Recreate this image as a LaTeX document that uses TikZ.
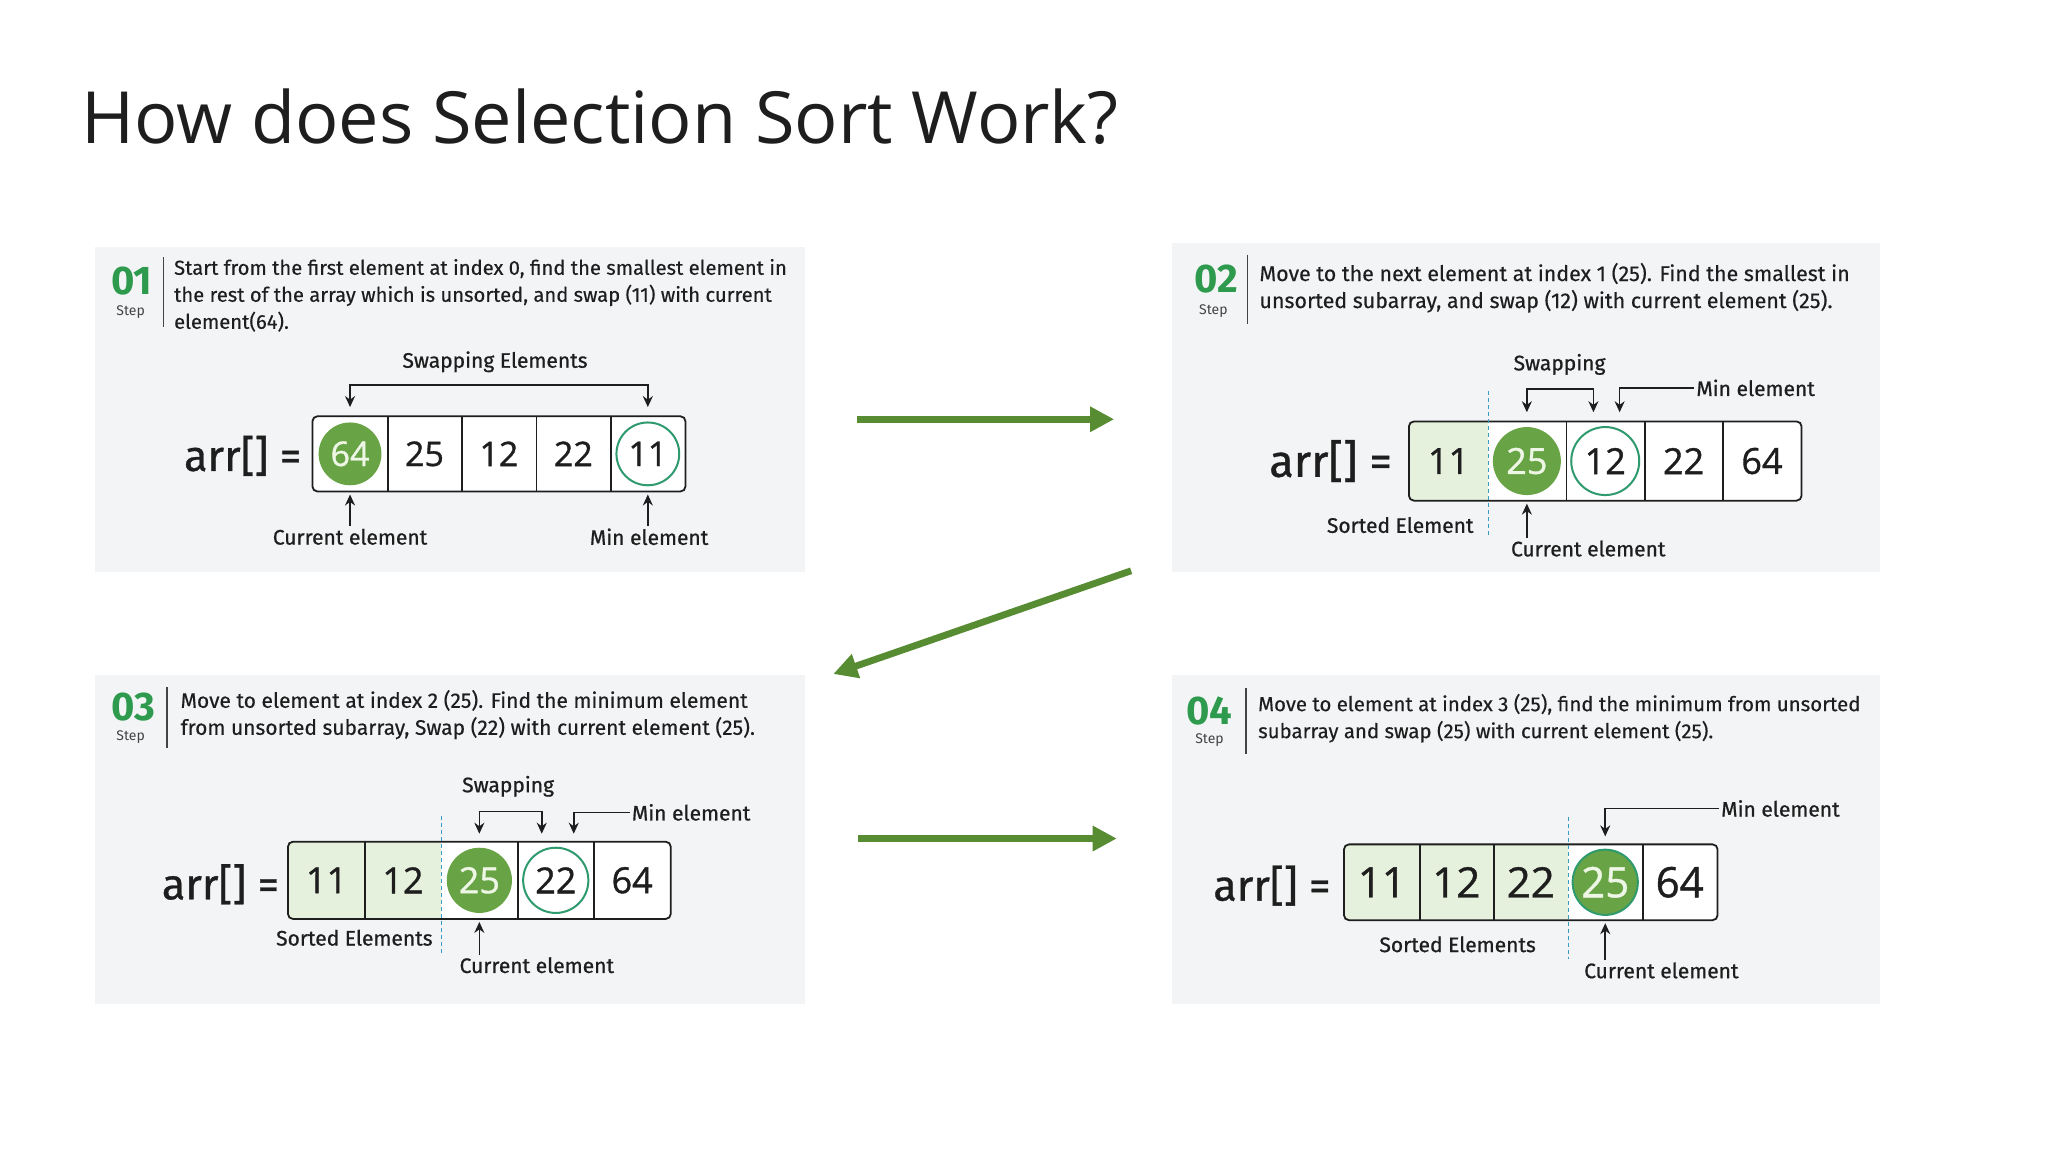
\documentclass[tikz,border=0pt]{standalone}
\usepackage{fontspec}
\setmainfont{Fira Sans}
\newfontfamily\titlefont{Open Sans}
\newfontfamily\numfont[FakeBold=1.0]{Open Sans}
\newfontfamily\medfont[FakeBold=0.8]{Fira Sans}
\newfontfamily\descfont[FakeBold=0.35]{Fira Sans}
\newfontfamily\stepfont[Numbers=Proportional]{Fira Sans}
\usetikzlibrary{arrows.meta, calc, positioning}
\definecolor{Ink}   {HTML}{1E1E1E}
\definecolor{MGray} {HTML}{444444}
\definecolor{PanelF}{HTML}{F3F4F6}
\definecolor{StepG} {HTML}{2E9A4E}
\definecolor{DotG}  {HTML}{68A445}
\definecolor{DotT}  {HTML}{EEF6E6}
\definecolor{RingG} {HTML}{2E9A6E}
\definecolor{SortF} {HTML}{E5F1DC}
\definecolor{SortL} {HTML}{3A9BC8}
\definecolor{FlowG} {HTML}{578C33}
\tikzset{
  dotr/.store in=\dotr, dotr=15.7pt,
  panel/.style={fill=PanelF, draw=none},
  stepno/.style={font=\stepfont\bfseries\fontsize{20}{20}\selectfont, text=StepG, inner sep=0pt},
  steplbl/.style={font=\fontsize{7}{7}\selectfont, text=MGray, inner sep=0pt},
  sepln/.style={draw=MGray, line width=0.7pt},
  desc/.style={font=\descfont\fontsize{#1}{13.5}\selectfont, text=Ink, align=left,
    anchor=north west, inner sep=0pt},
  desc/.default=10.4,
  cellbox/.style args={#1/#2}{
    rectangle, minimum width=#1, minimum height=#1, inner sep=0pt,
    fill=white, text=Ink, font=\numfont\fontsize{#2}{#2}\selectfont,
  },
  plain/.style={},
  sorted/.style={fill=SortF},
  cur/.style={text=DotT, path picture={
    \fill[DotG] (path picture bounding box.center) circle[radius=\dotr];}},
  mino/.style={path picture={
    \draw[RingG, line width=1pt] (path picture bounding box.center) circle[radius=\dotr];}},
  curmin/.style={text=DotT, path picture={
    \fill[DotG, draw=RingG, line width=1pt] (path picture bounding box.center) circle[radius=\dotr];}},
  frame/.style={draw=Ink, line width=0.9pt, rounded corners=2.5pt},
  divln/.style={draw=Ink, line width=0.9pt},
  sortln/.style={draw=SortL, line width=0.6pt, dash pattern=on 2pt off 1.5pt},
  lbl/.style={font=\medfont\fontsize{10.5}{10.5}\selectfont, text=Ink, inner sep=1pt},
  arrlbl/.style={font=\medfont\fontsize{#1}{#1}\selectfont, text=Ink, anchor=east, inner sep=0pt},
  arrlbl/.default=21.5,
  arr/.style={-{Stealth[length=5.5pt,width=5pt]}, line width=0.8pt, draw=Ink},
  dblarr/.style={{Stealth[length=5.5pt,width=5pt]}-{Stealth[length=5.5pt,width=5pt]},
    line width=0.8pt, draw=Ink},
  flow/.style={-{Triangle[length=12pt,width=12pt]}, line width=3.4pt, draw=FlowG},
}
\begin{document}
\begin{tikzpicture}[x=0.653pt,y=-0.653pt]

  \fill[white] (0,0) rectangle (1568,882);
  \useasboundingbox (0,0) rectangle (1568,882);

  \node[anchor=base west, inner sep=0pt, text=Ink,
        font=\titlefont\fontsize{36}{36}\selectfont] (title) at (62,110)
        {How does Selection Sort Work?};

  % panel backgrounds
  \fill[panel] (73,189) rectangle (616,438);
  \fill[panel] (897,186) rectangle (1439,438);
  \fill[panel] (73,517) rectangle (616,769);
  \fill[panel] (897,517) rectangle (1439,769);

  % ---- step 01
  \node[stepno]  (s1n) at (101,215) {01};
  \node[steplbl] (s1l) at (100,239) {Step};
  \draw[sepln] (125,197) -- (125,250);
  \node[desc=10.1] (s1t) at (133,198)
    {Start from the first element at index 0, find the smallest element in\\
     the rest of the array which is unsorted, and swap (11) with current\\
     element(64).};
  \node[arrlbl] (p1arr) at (231,349) {arr[] =};
  \foreach \v/\s [count=\i] in {64/cur,25/plain,12/plain,22/plain,11/mino}{
    \node[cellbox=37.2pt/17, \s] (p1c\i) at ({268+57*(\i-1)},347.5) {\v};
  }
  \foreach \i in {1,...,4}{
    \draw[divln] (p1c\i.north east) -- (p1c\i.south east);
  }
  \draw[frame] (p1c1.north west) rectangle (p1c5.south east);
  \node[lbl] (p1swp) at (379,277) {Swapping Elements};
  \draw[dblarr] ([yshift=4.6pt]p1c1.north) -- ++(0,-17) -| ([yshift=4.6pt]p1c5.north);
  \node[lbl] (p1cur) at (268,411) {Current element};
  \node[lbl] (p1min) at (497,411) {Min element};
  \draw[arr] (p1cur.north -| p1c1) -- ([yshift=-1.5pt]p1c1.south);
  \draw[arr] (p1min.north -| p1c5) -- ([yshift=-1.5pt]p1c5.south);

  % ---- step 02
  \node[stepno]  (s2n) at (931,214) {02};
  \node[steplbl] (s2l) at (929,238) {Step};
  \draw[sepln] (955,195) -- (955,248);
  \node[desc=10.7] (s2t) at (964,201)
    {Move to the next element at index 1 (25). Find the smallest in\\
     unsorted subarray, and swap (12) with current element (25).};
  \node[arrlbl=22.5] (p2arr) at (1066,353) {arr[] =};
  \begin{scope}[dotr=17pt]
    \foreach \v/\s [count=\i] in {11/sorted,25/cur,12/mino,22/plain,64/plain}{
      \node[cellbox=39.2pt/18, \s] (p2c\i) at ({1109+60*(\i-1)},353) {\v};
    }
  \end{scope}
  \foreach \i in {2,3,4}{
    \draw[divln] (p2c\i.north east) -- (p2c\i.south east);
  }
  \draw[frame] (p2c1.north west) rectangle (p2c5.south east);
  \draw[sortln] ([yshift=15pt]p2c1.north east) -- ([yshift=-17.6pt]p2c1.south east);
  \node[lbl] (p2swp) at (1194,279) {Swapping};
  \draw[dblarr] ([yshift=4.6pt]p2c2.north) -- ++(0,-18)
    -| ([xshift=-5.9pt,yshift=4.6pt]p2c3.north);
  \node[lbl, anchor=west] (p2min) at (1297,297) {Min element};
  \draw[arr] (p2min.west) -| ([xshift=7.2pt,yshift=4.6pt]p2c3.north);
  \node[lbl] (p2cur) at (1216,420) {Current element};
  \node[lbl, anchor=east] (p2srt) at (1130,402) {Sorted Element};
  \draw[arr] (p2cur.north -| p2c2) -- ([yshift=-1.5pt]p2c2.south);

  % ---- step 03
  \node[stepno]  (s3n) at (102,541) {03};
  \node[steplbl] (s3l) at (100,564) {Step};
  \draw[sepln] (128,526) -- (128,573);
  \node[desc=10.5] (s3t) at (138,528)
    {Move to element at index 2 (25). Find the minimum element\\
     from unsorted subarray, Swap (22) with current element (25).};
  \node[arrlbl] (p3arr) at (214,677) {arr[] =};
  \begin{scope}[dotr=16.3pt]
    \foreach \v/\s [count=\i] in {11/sorted,12/sorted,25/cur,22/mino,64/plain}{
      \node[cellbox=38.2pt/18, \s] (p3c\i) at ({250+58.5*(\i-1)},674) {\v};
    }
  \end{scope}
  \foreach \i in {1,3,4}{
    \draw[divln] (p3c\i.north east) -- (p3c\i.south east);
  }
  \draw[frame] (p3c1.north west) rectangle (p3c5.south east);
  \draw[sortln] ([yshift=13pt]p3c2.north east) -- ([yshift=-17.6pt]p3c2.south east);
  \node[lbl] (p3swp) at (389,602) {Swapping};
  \draw[dblarr] ([yshift=4pt]p3c3.north) -- ++(0,-17)
    -| ([xshift=-7pt,yshift=4pt]p3c4.north);
  \node[lbl, anchor=west] (p3min) at (482,622) {Min element};
  \draw[arr] (p3min.west) -| ([xshift=9pt,yshift=4pt]p3c4.north);
  \node[lbl] (p3cur) at (411,739) {Current element};
  \node[lbl, anchor=east] (p3srt) at (333,718) {Sorted Elements};
  \draw[arr] (p3cur.north -| p3c3) -- ([yshift=-1.5pt]p3c3.south);

  % ---- step 04
  \node[stepno]  (s4n) at (926,544) {04};
  \node[steplbl] (s4l) at (926,567) {Step};
  \draw[sepln] (954,527) -- (954,577);
  \node[desc=10.2] (s4t) at (963,531)
    {Move to element at index 3 (25), find the minimum from unsorted\\
     subarray and swap (25) with current element (25).};
  \node[arrlbl] (p4arr) at (1019,678) {arr[] =};
  \begin{scope}[dotr=16.3pt]
    \foreach \v/\s [count=\i] in {11/sorted,12/sorted,22/sorted,25/curmin,64/plain}{
      \node[cellbox=37.5pt/21, \s] (p4c\i) at ({1058+57*(\i-1)},675.5) {\v};
    }
  \end{scope}
  \foreach \i in {1,2,4}{
    \draw[divln] (p4c\i.north east) -- (p4c\i.south east);
  }
  \draw[frame] (p4c1.north west) rectangle (p4c5.south east);
  \draw[sortln] ([yshift=13.7pt]p4c3.north east) -- ([yshift=-19.6pt]p4c3.south east);
  \node[lbl, anchor=west] (p4min) at (1316,619) {Min element};
  \draw[arr] (p4min.west) -| ([yshift=4pt]p4c4.north);
  \node[lbl] (p4cur) at (1272,743) {Current element};
  \node[lbl] (p4srt) at (1116,723) {Sorted Elements};
  \draw[arr] (p4cur.north -| p4c4) -- ([yshift=-1.5pt]p4c4.south);

  % ---- flow between steps
  \coordinate (g1a) at (656,321);
  \coordinate (g1b) at (853,321);
  \coordinate (g2a) at (866,437);
  \coordinate (g2b) at (638,516);
  \coordinate (g3a) at (657,642);
  \coordinate (g3b) at (855,642);
  \draw[flow] (g1a) -- (g1b);
  \draw[flow] (g2a) -- (g2b);
  \draw[flow] (g3a) -- (g3b);

\end{tikzpicture}
\end{document}
